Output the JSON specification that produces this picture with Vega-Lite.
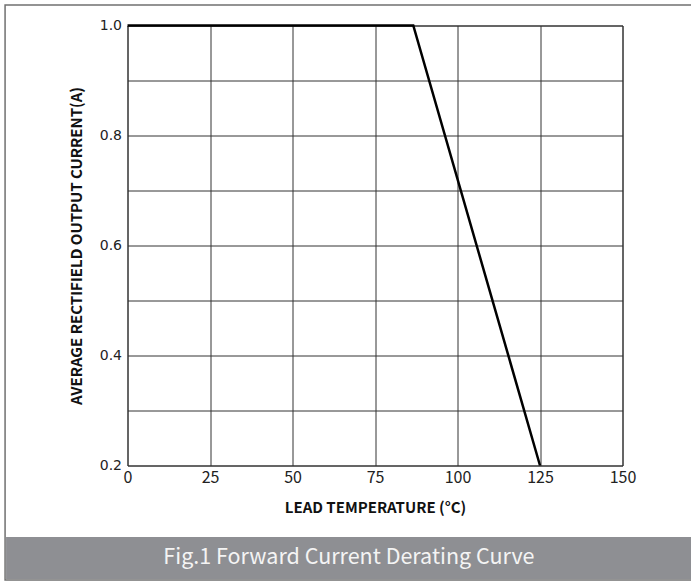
{
  "$schema": "https://vega.github.io/schema/vega-lite/v6.json",
  "autosize": {"type": "none"},
  "width": 495,
  "height": 440,
  "padding": {"left": 127.5, "top": 25.5, "right": 68.5, "bottom": 115.5},
  "background": "#ffffff",
  "config": {
    "view": {"stroke": "#333333", "strokeWidth": 1},
    "axis": {
      "grid": true,
      "gridColor": "#333333",
      "gridOpacity": 1,
      "gridWidth": 1,
      "domain": false,
      "ticks": false,
      "labelFlush": false,
      "labelColor": "#222222",
      "titleColor": "#111111",
      "titleFont": "Noto Sans CJK SC",
      "titleFontWeight": "bold",
      "titleFontSize": 15
    }
  },
  "layer": [
    {
      "data": {
        "values": [
          {"temperature": 0, "current": 1.0},
          {"temperature": 86.6, "current": 1.0},
          {"temperature": 125, "current": 0.2}
        ]
      },
      "mark": {"type": "line", "color": "#000000", "strokeWidth": 2.5, "clip": false},
      "encoding": {
        "x": {
          "field": "temperature",
          "type": "quantitative",
          "scale": {"domain": [0, 150], "nice": false, "zero": false},
          "axis": {
            "values": [0, 25, 50, 75, 100, 125, 150],
            "title": "LEAD TEMPERATURE (°C)",
            "labelFont": "Noto Sans CJK SC",
            "labelFontSize": 16,
            "labelPadding": 4,
            "labelFlush": false,
            "titlePadding": 15
          }
        },
        "y": {
          "field": "current",
          "type": "quantitative",
          "scale": {"domain": [0.2, 1.0], "nice": false, "zero": false},
          "axis": {
            "values": [0.2, 0.3, 0.4, 0.5, 0.6, 0.7, 0.8, 0.9, 1.0],
            "labelExpr": "indexof(['0.2','0.4','0.6','0.8','1.0'], format(datum.value, '.1f')) >= 0 ? format(datum.value, '.1f') : ''",
            "title": "AVERAGE RECTIFIELD OUTPUT CURRENT(A)",
            "labelFont": "DejaVu Sans",
            "labelFontSize": 14,
            "labelPadding": 6,
            "labelFlush": false,
            "titlePadding": 14.5
          }
        }
      }
    },
    {
      "data": {"values": [{"caption": "Fig.1 Forward Current Derating Curve"}]},
      "mark": {"type": "rect", "color": "#8e8f93", "clip": false},
      "encoding": {
        "x": {"datum": -36.8, "type": "quantitative"},
        "x2": {"datum": 171},
        "y": {"datum": 0.07, "type": "quantitative"},
        "y2": {"datum": -0.0065}
      }
    },
    {
      "data": {"values": [{"caption": "Fig.1 Forward Current Derating Curve"}]},
      "mark": {"type": "rect", "fill": null, "stroke": "#707070", "strokeWidth": 1.5, "clip": false},
      "encoding": {
        "x": {"datum": -37.1, "type": "quantitative"},
        "x2": {"datum": 175},
        "y": {"datum": 1.0373, "type": "quantitative"},
        "y2": {"datum": -0.0082}
      }
    },
    {
      "data": {"values": [{"caption": "Fig.1 Forward Current Derating Curve"}]},
      "mark": {
        "type": "text",
        "font": "Noto Sans CJK SC",
        "fontSize": 21.5,
        "color": "#f4f4f4",
        "align": "center",
        "baseline": "middle",
        "clip": false
      },
      "encoding": {
        "x": {"datum": 67.1, "type": "quantitative"},
        "y": {"datum": 0.0318, "type": "quantitative"},
        "text": {"field": "caption", "type": "nominal"}
      }
    }
  ]
}
